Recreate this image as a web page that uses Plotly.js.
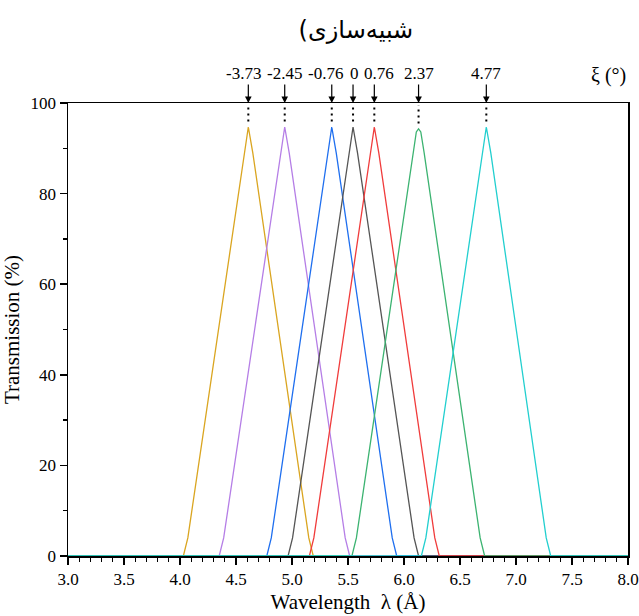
<!DOCTYPE html>
<html><head><meta charset="utf-8">
<script src="https://cdn.plot.ly/plotly-3.0.1.min.js"></script>
<style>body{margin:0;background:#fff}#chart{width:639px;height:616px}</style>
</head><body><div id="chart"></div>
<script>
// ---- data ----
const xiLabels = ["-3.73", "-2.45", "-0.76", "0", "0.76", "2.37", "4.77"];
const peakWavelength = [4.61, 4.935, 5.355, 5.545, 5.735, 6.13, 6.735];
const peakTransmission = [94.7, 94.7, 94.7, 94.7, 94.7, 94.3, 94.7];
const seriesColors = ["#DAA520", "#B57EE6", "#1F6FEF", "#555555", "#F03C3C", "#3CB371", "#22CFCF"];

const x_xi_m373 = [3.0, 4.03, 4.07, 4.57, 4.61, 4.65, 5.15, 5.19, 8.0];
const y_xi_m373 = [0, 0, 4, 89, 94.7, 89, 4, 0, 0];
const x_xi_m245 = [3.0, 4.35, 4.39, 4.895, 4.935, 4.975, 5.475, 5.515, 8.0];
const y_xi_m245 = [0, 0, 4, 89, 94.7, 89, 4, 0, 0];
const x_xi_m076 = [3.0, 4.775, 4.815, 5.315, 5.355, 5.395, 5.895, 5.935, 8.0];
const y_xi_m076 = [0, 0, 4, 89, 94.7, 89, 4, 0, 0];
const x_xi_0 = [3.0, 4.965, 5.005, 5.505, 5.545, 5.585, 6.09, 6.13, 8.0];
const y_xi_0 = [0, 0, 4, 89, 94.7, 89, 4, 0, 0];
const x_xi_076 = [3.0, 5.155, 5.195, 5.695, 5.735, 5.775, 6.275, 6.315, 8.0];
const y_xi_076 = [0, 0, 4, 89, 94.7, 89, 4, 0, 0];
const x_xi_237 = [3.0, 5.535, 5.575, 6.08, 6.11, 6.13, 6.15, 6.18, 6.68, 6.72, 8.0];
const y_xi_237 = [0, 0, 4, 89, 93.6, 94.3, 93.6, 89, 4, 0, 0];
const x_xi_477 = [3.0, 6.155, 6.195, 6.695, 6.735, 6.775, 7.27, 7.31, 8.0];
const y_xi_477 = [0, 0, 4, 89, 94.7, 89, 4, 0, 0];

const xTickVals = [3.0, 3.5, 4.0, 4.5, 5.0, 5.5, 6.0, 6.5, 7.0, 7.5, 8.0];
const yTickVals = [0, 20, 40, 60, 80, 100];

const seriesX = [x_xi_m373, x_xi_m245, x_xi_m076, x_xi_0, x_xi_076, x_xi_237, x_xi_477];
const seriesY = [y_xi_m373, y_xi_m245, y_xi_m076, y_xi_0, y_xi_076, y_xi_237, y_xi_477];

// ---- chart ----
const serif = "Liberation Serif, Times New Roman, serif";
const labelShift = [-5, 0, -6, 1, 5, 0, 0];   // pixel nudges of the top labels (styling)
// title laid out right-to-left (RTL embedding)
const titleText = "\u202Bشبیه‌سازی)\u202C";

const traces = seriesX.map((xs, i) => ({
  type: "scatter", mode: "lines", x: xs, y: seriesY[i],
  line: {color: seriesColors[i], width: 1.3},
  name: xiLabels[i], showlegend: false, hoverinfo: "skip"
}));

const shapes = peakWavelength.map((w, i) => ({
  type: "line", xref: "x", yref: "y",
  x0: w, x1: w, y0: peakTransmission[i] + 1.2, y1: 99.5,
  line: {color: "#000", width: 2, dash: "2px,4px"}
}));

const annotations = [];
peakWavelength.forEach((w, i) => {
  annotations.push({
    xref: "x", yref: "y", x: w, y: 100,
    text: "", showarrow: true, ax: 0, ay: -20,
    arrowhead: 2, arrowsize: 1.1, arrowwidth: 1.2,
    arrowcolor: "#000", standoff: 0
  });
  annotations.push({
    xref: "x", yref: "paper", x: w, y: 1, yshift: 30, xshift: labelShift[i],
    xanchor: "center", yanchor: "middle", showarrow: false,
    text: xiLabels[i], font: {family: serif, size: 17, color: "#000"}
  });
});
annotations.push({
  xref: "paper", yref: "paper", x: 1.0, y: 1.0, yshift: 28,
  xanchor: "right", yanchor: "middle", showarrow: false,
  text: "ξ (°)", font: {family: serif, size: 20, color: "#000"}
});

const layout = {
  width: 639, height: 616,
  margin: {l: 68, r: 11, t: 103, b: 60},
  paper_bgcolor: "#fff", plot_bgcolor: "#fff",
  title: {
    text: titleText, x: 0.557, xref: "container", y: 0.952, yref: "container",
    xanchor: "center", yanchor: "middle",
    font: {family: "DejaVu Sans, sans-serif", size: 24, color: "#000"}
  },
  xaxis: {
    range: [3, 8], tickvals: xTickVals, ticktext: xTickVals.map(v => v.toFixed(1)),
    ticks: "outside", ticklen: 7, tickwidth: 1.5, tickcolor: "#000",
    minor: {dtick: 0.1, ticks: "outside", ticklen: 4, tickwidth: 1.3, tickcolor: "#000"},
    showline: true, linecolor: "#000", linewidth: 1.5, mirror: true,
    showgrid: false, zeroline: false, layer: "below traces",
    tickfont: {family: serif, size: 17, color: "#000"},
    title: {text: "Wavelength  λ (Å)", font: {family: serif, size: 21, color: "#000"}, standoff: 6}
  },
  yaxis: {
    range: [0, 100], tickvals: yTickVals,
    ticks: "outside", ticklen: 7, tickwidth: 1.5, tickcolor: "#000",
    minor: {dtick: 10, ticks: "outside", ticklen: 4, tickwidth: 1.3, tickcolor: "#000"},
    showline: true, linecolor: "#000", linewidth: 1.5, mirror: true,
    showgrid: false, zeroline: false, layer: "below traces",
    tickfont: {family: serif, size: 17, color: "#000"},
    title: {text: "Transmission (%)", font: {family: serif, size: 21, color: "#000"}, standoff: 6}
  },
  shapes: shapes,
  annotations: annotations
};

Plotly.newPlot("chart", traces, layout, {staticPlot: true, displayModeBar: false});
</script>
</body></html>
